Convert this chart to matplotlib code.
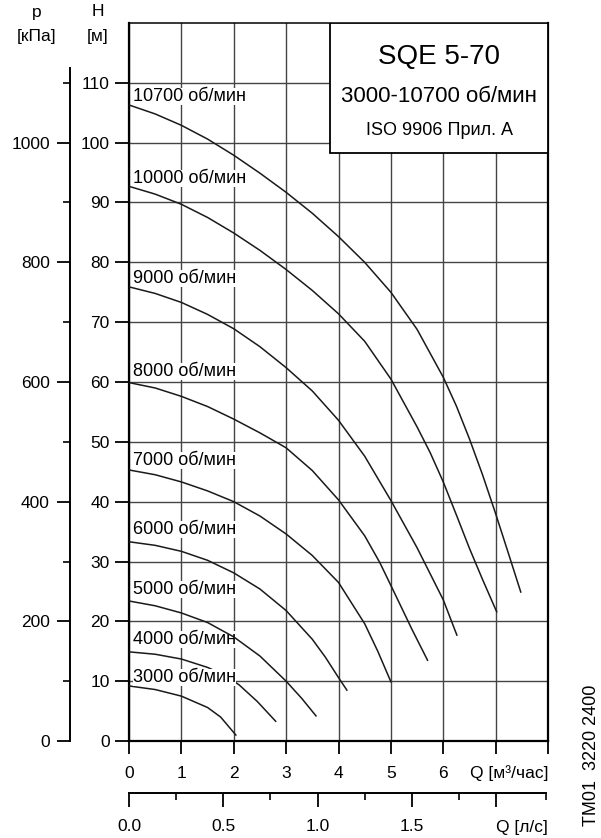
import numpy as np
import matplotlib
matplotlib.use('Agg')
import matplotlib.pyplot as plt
from matplotlib.patches import Rectangle

plt.rcParams['font.family'] = ['Liberation Sans', 'DejaVu Sans']
plt.rcParams['font.size'] = 12

# pump curves: Q [m3/h] -> H [m]
speeds = [10700, 10000, 9000, 8000, 7000, 6000, 5000, 4000, 3000]
q_curves = [
    [0, 0.5, 1, 1.5, 2, 2.5, 3, 3.5, 4, 4.5, 5, 5.5, 6, 6.25, 6.5, 6.75, 7, 7.25, 7.48],
    [0, 0.5, 1, 1.5, 2, 2.5, 3, 3.5, 4, 4.5, 5, 5.5, 5.75, 6, 6.25, 6.5, 6.75, 7.02],
    [0, 0.5, 1, 1.5, 2, 2.5, 3, 3.5, 4, 4.5, 5, 5.5, 6, 6.26],
    [0, 0.5, 1, 1.5, 2, 2.5, 3, 3.5, 4, 4.5, 4.79, 5.11, 5.4, 5.7],
    [0, 0.5, 1, 1.5, 2, 2.5, 3, 3.5, 4, 4.5, 4.75, 5.0],
    [0, 0.5, 1, 1.5, 2, 2.5, 3, 3.5, 3.75, 4.0, 4.16],
    [0, 0.5, 1, 1.5, 2, 2.5, 3, 3.3, 3.57],
    [0, 0.5, 1, 1.5, 1.8, 2.1, 2.45, 2.8],
    [0, 0.5, 1, 1.5, 1.75, 2.04],
]
h_curves = [
    [106.3, 104.8, 102.9, 100.6, 97.9, 94.9, 91.7, 88.2, 84.3, 80.0, 75.0, 68.8, 60.8,
     56.0, 50.5, 44.5, 38.0, 31.2, 24.9],
    [92.7, 91.4, 89.7, 87.5, 84.9, 82.0, 78.8, 75.3, 71.4, 66.8, 60.5, 52.5, 48.2, 43.3,
     37.8, 32.2, 27.0, 21.6],
    [75.9, 74.8, 73.3, 71.3, 68.9, 65.9, 62.4, 58.5, 53.6, 47.6, 40.2, 32.3, 23.6, 17.7],
    [59.9, 59.0, 57.6, 55.9, 53.8, 51.5, 49.0, 45.2, 40.3, 34.3, 29.8, 24.0, 18.7, 13.5],
    [45.3, 44.5, 43.3, 41.8, 40.0, 37.6, 34.6, 31.0, 26.5, 19.6, 15.0, 9.9],
    [33.3, 32.7, 31.7, 30.2, 28.1, 25.4, 21.8, 17.0, 14.0, 10.6, 8.5],
    [23.4, 22.6, 21.4, 19.8, 17.4, 14.2, 10.0, 7.1, 4.2],
    [14.9, 14.5, 13.7, 12.3, 11.1, 9.4, 6.6, 3.3],
    [9.2, 8.6, 7.5, 5.6, 4.0, 1.0],
]
# baseline of each speed label [m]
label_h = [106.9, 93.3, 76.6, 61.0, 46.2, 34.6, 24.6, 16.2, 9.9]

q_ticks = [0, 1, 2, 3, 4, 5, 6, 7, 8]
q_ticklabels = ['0', '1', '2', '3', '4', '5', '6', '', '']
h_ticks = list(range(0, 111, 10))
p_major = [0, 200, 400, 600, 800, 1000]
p_minor = [100, 300, 500, 700, 900, 1100]
ls_major = [0, 0.5, 1.0, 1.5, 7 / 3.6]
ls_labels = ['0.0', '0.5', '1.0', '1.5', '']
ls_minor = [0.25, 0.75, 1.25, 1.75, 2.21]

W, H = 601, 838
fig = plt.figure(figsize=(W / 100, H / 100), dpi=100)

ax = fig.add_axes([129 / W, 97 / H, 419 / W, 718 / H])
ax.set_xlim(0, 8)
ax.set_ylim(0, 120)
ax.set_xticks(q_ticks)
ax.set_xticklabels(q_ticklabels)
ax.set_yticks(h_ticks)
ax.grid(True, color='#444444', lw=1.0)
ax.set_axisbelow(True)
ax.tick_params(axis='y', direction='out', length=10, width=1.3, pad=4, labelsize=12.5)
ax.tick_params(axis='x', direction='out', length=9, width=1.3, pad=9, labelsize=12.5)
for s in ['left', 'right', 'bottom']:
    ax.spines[s].set_linewidth(1.6)
ax.spines['top'].set_linewidth(1.1)

for sp, q, h, lh in zip(speeds, q_curves, h_curves, label_h):
    ax.plot(q, h, color='#1a1a1a', lw=1.1, zorder=4)
    # the lowest label sits over the 4000 curve, the others under the curves
    ax.text(0.07, lh, f'{sp} об/мин', fontsize=13, va='baseline', ha='left',
            zorder=5 if sp == 3000 else 3,
            bbox=dict(facecolor='white', edgecolor='none', pad=0))

# title box
ax.add_patch(Rectangle((0.4797, 0.819), 0.5203, 0.181, transform=ax.transAxes,
                       facecolor='white', edgecolor='black', lw=1.3, zorder=6))
ax.text(0.74, 0.9526, 'SQE 5-70', transform=ax.transAxes, ha='center', va='center',
        fontsize=20, zorder=7)
ax.text(0.74, 0.898, '3000-10700 об/мин', transform=ax.transAxes, ha='center',
        va='center', fontsize=16, zorder=7)
ax.text(0.74, 0.8496, 'ISO 9906 Прил. А', transform=ax.transAxes, ha='center',
        va='center', fontsize=13, zorder=7)

# pressure axis
axp = fig.add_axes([70 / W, 97 / H, 0.01, 718 / H])
axp.set_ylim(0, 1200)
axp.patch.set_visible(False)
for s in ['right', 'top', 'bottom']:
    axp.spines[s].set_visible(False)
axp.spines['left'].set_bounds(0, 1125)
axp.spines['left'].set_linewidth(1.4)
axp.set_xticks([])
axp.set_yticks(p_major)
axp.set_yticks(p_minor, minor=True)
axp.tick_params(axis='y', which='major', direction='out', length=9.5, width=1.3, pad=5,
                labelsize=12.5)
axp.tick_params(axis='y', which='minor', direction='out', length=5, width=1.2)

# flow axis in l/s
axq = fig.add_axes([129 / W, 45 / H, 419 / W, 0.01])
axq.set_xlim(0, 8 / 3.6)
axq.patch.set_visible(False)
for s in ['left', 'right', 'top']:
    axq.spines[s].set_visible(False)
axq.spines['bottom'].set_bounds(0, 7.96 / 3.6)
axq.spines['bottom'].set_linewidth(1.4)
axq.set_yticks([])
axq.set_xticks(ls_major)
axq.set_xticklabels(ls_labels)
axq.set_xticks(ls_minor, minor=True)
axq.tick_params(axis='x', which='major', direction='out', length=10, width=1.3, pad=9,
                labelsize=12.5)
axq.tick_params(axis='x', which='minor', direction='out', length=5, width=1.2)

fig.text(37 / W, 1 - 12 / H, 'p', ha='center', va='center', fontsize=12.5)
fig.text(37 / W, 1 - 36 / H, '[кПа]', ha='center', va='center', fontsize=12.5)
fig.text(98 / W, 1 - 12 / H, 'H', ha='center', va='center', fontsize=12.5)
fig.text(98 / W, 1 - 37 / H, '[м]', ha='center', va='center', fontsize=12.5)
fig.text(548 / W, 1 - 773 / H, 'Q [м³/час]', ha='right', va='center', fontsize=12.5)
fig.text(548 / W, 1 - 827 / H, 'Q [л/с]', ha='right', va='center', fontsize=12.5)
fig.text(591 / W, 1 - 755 / H, 'TM01  3220 2400', ha='center', va='center',
         rotation=90, fontsize=13)

fig.savefig('out.png', dpi=100)
